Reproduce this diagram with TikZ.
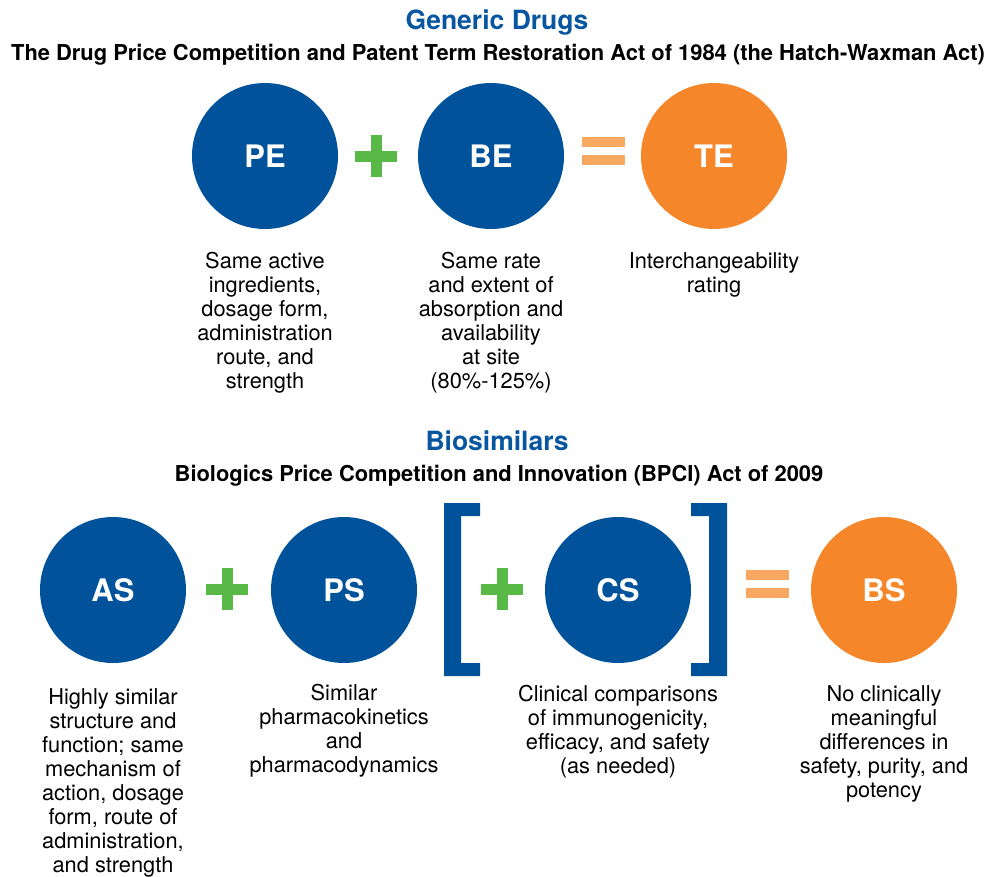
\documentclass[tikz,border=0pt]{standalone}
\usepackage{fontspec}
\setmainfont{TeX Gyre Heros}
\definecolor{discblue}{RGB}{0,82,155}
\definecolor{headblue}{RGB}{8,86,160}
\definecolor{resorange}{RGB}{245,134,42}
\definecolor{plusgreen}{RGB}{88,185,71}
\definecolor{eqorange}{RGB}{249,168,98}
\begin{document}
\begin{tikzpicture}[x=1pt,y=-1pt,
  disc/.style={circle, fill=discblue, minimum size=146pt, inner sep=0pt,
    text=white, font=\fontsize{31}{31}\selectfont\bfseries},
  result/.style={disc, fill=resorange},
  desc/.style={align=center, anchor=north, inner sep=0pt,
    font=\fontsize{21.8}{24}\selectfont},
  heading/.style={anchor=base, inner sep=0pt, text=headblue,
    font=\fontsize{26.5}{28}\selectfont\bfseries},
  act/.style={anchor=base, inner sep=0pt,
    font=\fontsize{21.9}{24}\selectfont\bfseries},
  plussign/.pic={
    \fill[plusgreen] (-21,-5.5) rectangle (21,5.5);
    \fill[plusgreen] (-5.5,-21) rectangle (5.5,21);},
  eqsign/.pic={
    \fill[eqorange] (-21.5,-14) rectangle (21.5,-4);
    \fill[eqorange] (-21.5,4) rectangle (21.5,14);}
]
\useasboundingbox (0,0) rectangle (990,876);

% ---------- Generic drugs ----------
\node[heading] (gtitle) at (497,29) {Generic Drugs};
\node[act] (gact) at (498,60) {The Drug Price Competition and Patent Term Restoration Act of 1984 (the Hatch-Waxman Act)};

\node[disc] (pe) at (265,156) {PE};
\node[disc] (be) at (491,156) {BE};
\node[result] (te) at (714,156) {TE};
\pic at (376,156) {plussign};
\pic at (603,151) {eqsign};

\node[desc] (pedesc) at (265,252) {Same active\\ingredients,\\dosage form,\\administration\\route, and\\strength};
\node[desc] (bedesc) at (491,252) {Same rate\\and extent of\\absorption and\\availability\\at site\\(80\%-125\%)};
\node[desc] (tedesc) at (714,252) {Interchangeability\\rating};

% ---------- Biosimilars ----------
\node[heading] (btitle) at (497,450) {Biosimilars};
\node[act] (bact) at (499,481) {Biologics Price Competition and Innovation (BPCI) Act of 2009};

\node[disc] (as) at (113,590) {AS};
\node[disc] (ps) at (344,590) {PS};
\node[disc] (cs) at (618,590) {CS};
\node[result] (bs) at (884,590) {BS};
\pic at (227,589) {plussign};
\pic at (502,589) {plussign};
\pic at (767,583.5) {eqsign};

% brackets around the optional clinical step
\fill[discblue] (480,503) -- (444,503) -- (444,676) -- (480,676) -- (480,663)
  -- (461,663) -- (461,516) -- (480,516) -- cycle;
\fill[discblue] (691,503) -- (727,503) -- (727,676) -- (691,676) -- (691,663)
  -- (709,663) -- (709,516) -- (691,516) -- cycle;

\node[desc] (asdesc) at (113,688) {Highly similar\\structure and\\function; same\\mechanism of\\action, dosage\\form, route of\\administration,\\and strength};
\node[desc] (psdesc) at (344,684) {Similar\\pharmacokinetics\\and\\pharmacodynamics};
\node[desc] (csdesc) at (618,685) {Clinical comparisons\\of immunogenicity,\\efficacy, and safety\\(as needed)};
\node[desc] (bsdesc) at (884,685) {No clinically\\meaningful\\differences in\\safety, purity, and\\potency};
\end{tikzpicture}
\end{document}
